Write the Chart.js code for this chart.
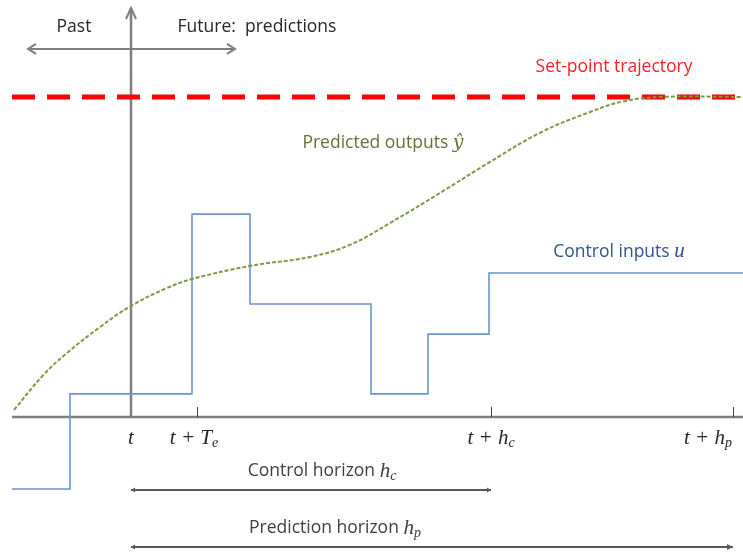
<!DOCTYPE html>
<html>
<head>
<meta charset="utf-8">
<script src="https://cdn.jsdelivr.net/npm/chart.js@4"></script>
<style>
  html, body { margin:0; padding:0; background:#fff; }
  #wrap { width:743px; height:552px; }
</style>
</head>
<body>
<div id="wrap"><canvas id="chart" width="743" height="552"></canvas></div>
<script>
// time in steps relative to t, output level relative to the time axis
const controlTimes  = [-11.9, -6.1, 6.1, 11.9, 24.0, 29.7, 35.8, 61.2];
const controlValues = [-2.25, 0.72, 6.34, 3.53, 0.72, 2.59, 4.5, 4.5];
const predTimes  = [-11.7, -8.8, -6.4, -3.1, 0, 3.6, 6.1, 11.9, 17.9, 21.9, 25.9, 30.9, 35.9, 40.9, 45.9, 49.2, 52.9, 61.2];
const predValues = [0.22, 1.3, 2.0, 2.81, 3.47, 4.03, 4.31, 4.72, 5.0, 5.38, 6.06, 7.0, 7.97, 8.88, 9.53, 9.86, 10.0, 10.0];
const setpointTimes  = [-11.9, 61.2];
const setpointValues = [10, 10];
const tickTimes  = [0, 6.6, 36, 60.2];
const tickLabels = [['t', ''], ['t + T', 'e'], ['t + h', 'c'], ['t + h', 'p']];
const tickLabelX = [0, 6.3, 36, 57.7];

const pts = (xs, ys) => xs.map((x, i) => ({ x, y: ys[i] }));
const gray = '#7f7f7f';
const FONT = '17.5px "Open Sans"';
const MATH = 'italic 21px "Liberation Serif"';
const SUB = 'italic 14px "Liberation Serif"';

const annotations = {
  id: 'annotations',
  afterDatasetsDraw(chart) {
    const c = chart.ctx, X = chart.scales.x, Y = chart.scales.y;
    const px = v => X.getPixelForValue(v), py = v => Y.getPixelForValue(v);

    function arrowHead(x, y, dir, len, half, color, open) {
      c.save();
      c.strokeStyle = color; c.fillStyle = color; c.lineWidth = 2;
      c.beginPath();
      if (dir === 'up') { c.moveTo(x - half, y + len); c.lineTo(x, y); c.lineTo(x + half, y + len); }
      else if (dir === 'left') { c.moveTo(x + len, y - half); c.lineTo(x, y); c.lineTo(x + len, y + half); }
      else { c.moveTo(x - len, y - half); c.lineTo(x, y); c.lineTo(x - len, y + half); }
      if (open) c.stroke(); else { c.closePath(); c.fill(); }
      c.restore();
    }
    function hline(x0, x1, y, color, w) {
      c.save(); c.strokeStyle = color; c.lineWidth = w;
      c.beginPath(); c.moveTo(px(x0), py(y)); c.lineTo(px(x1), py(y)); c.stroke(); c.restore();
    }
    function text(str, x, y, color, font, align) {
      c.save(); c.fillStyle = color; c.font = font; c.textAlign = align || 'center'; c.textBaseline = 'middle';
      c.fillText(str, px(x), py(y)); c.restore();
    }
    // label made of plain text followed by an italic math symbol
    function mixed(plain, sym, sub, x, y, color, font, mfont, sfont) {
      c.save(); c.fillStyle = color; c.textBaseline = 'middle';
      c.font = font; const w1 = c.measureText(plain).width;
      c.font = mfont; const w2 = c.measureText(sym).width;
      c.font = sfont; const w3 = sub ? c.measureText(sub).width : 0;
      let cx = px(x) - (w1 + w2 + w3) / 2; const cy = py(y);
      c.font = font; c.fillText(plain, cx, cy); cx += w1;
      c.font = mfont; c.fillText(sym, cx, cy); cx += w2;
      if (sub) { c.font = sfont; c.fillText(sub, cx, cy + 5); }
      c.restore();
    }

    // arrow tip of the vertical axis
    arrowHead(px(0), py(12.78), 'up', 11, 5, gray, true);
    // ticks on the time axis
    c.save(); c.strokeStyle = '#404040'; c.lineWidth = 1;
    tickTimes.slice(1).forEach(t => { c.beginPath(); c.moveTo(px(t) + 0.5, py(0.31)); c.lineTo(px(t) + 0.5, py(0)); c.stroke(); });
    c.restore();

    // past / future arrow
    hline(-10.3, 10.4, 11.5, gray, 2);
    arrowHead(px(-10.3), py(11.5), 'left', 8, 5, gray, true);
    arrowHead(px(10.4), py(11.5), 'right', 8, 5, gray, true);
    text('Past', -5.7, 12.19, '#262626', FONT);
    text('Future:  predictions', 12.6, 12.19, '#262626', FONT);

    // series labels
    text('Set-point trajectory', 48.3, 10.94, '#ff2020', FONT);
    mixed('Predicted outputs ', 'ŷ', '', 25.2, 8.56, '#5f7535', FONT, 'italic 19px "DejaVu Serif"', SUB);
    mixed('Control inputs ', 'u', '', 48.8, 5.16, '#2f5291', FONT, MATH, SUB);

    // time tick labels
    tickLabels.forEach((l, i) => {
      mixed('', l[0], l[1], tickLabelX[i], -0.66, '#262626', FONT, MATH, SUB);
    });

    // horizons
    mixed('Control horizon ', 'h', 'c', 19.1, -1.69, '#404040', FONT, MATH, SUB);
    hline(0, 36, -2.28, '#595959', 2);
    arrowHead(px(0), py(-2.28), 'left', 4, 2.5, '#595959', false);
    arrowHead(px(36), py(-2.28), 'right', 4, 2.5, '#595959', false);
    mixed('Prediction horizon ', 'h', 'p', 20.4, -3.47, '#404040', FONT, MATH, SUB);
    hline(0, 60.2, -4.06, '#595959', 2);
    arrowHead(px(0), py(-4.06), 'left', 4, 2.5, '#595959', false);
    arrowHead(px(60.2), py(-4.06), 'right', 6, 3, '#595959', false);
  }
};

const ctx = document.getElementById('chart').getContext('2d');
new Chart(ctx, {
  type: 'line',
  data: {
    datasets: [
      { label: 'Predicted outputs', data: pts(predTimes, predValues), borderColor: '#7a9a45', borderWidth: 2,
        borderDash: [4, 2], tension: 0.4, pointRadius: 0 },
      { label: 'Control inputs', data: pts(controlTimes, controlValues), borderColor: '#6b93cf', borderWidth: 1.6,
        stepped: true, pointRadius: 0 },
      { label: 'Set-point trajectory', data: pts(setpointTimes, setpointValues), borderColor: '#ff0000', borderWidth: 5,
        borderDash: [23, 12], pointRadius: 0 },
      { label: 'time axis', data: [{ x: -11.9, y: 0 }, { x: 61.2, y: 0 }], borderColor: gray, borderWidth: 2.5, pointRadius: 0 },
      { label: 'now', data: [{ x: 0, y: 0 }, { x: 0, y: 12.78 }], borderColor: gray, borderWidth: 2.5, pointRadius: 0 }
    ]
  },
  options: {
    responsive: false,
    animation: false,
    layout: { padding: 0 },
    plugins: { legend: { display: false }, tooltip: { enabled: false } },
    scales: {
      x: { type: 'linear', min: -13.1, max: 61.2, display: false },
      y: { type: 'linear', min: -4.22, max: 13.03, display: false }
    }
  },
  plugins: [annotations]
});
</script>
</body>
</html>
